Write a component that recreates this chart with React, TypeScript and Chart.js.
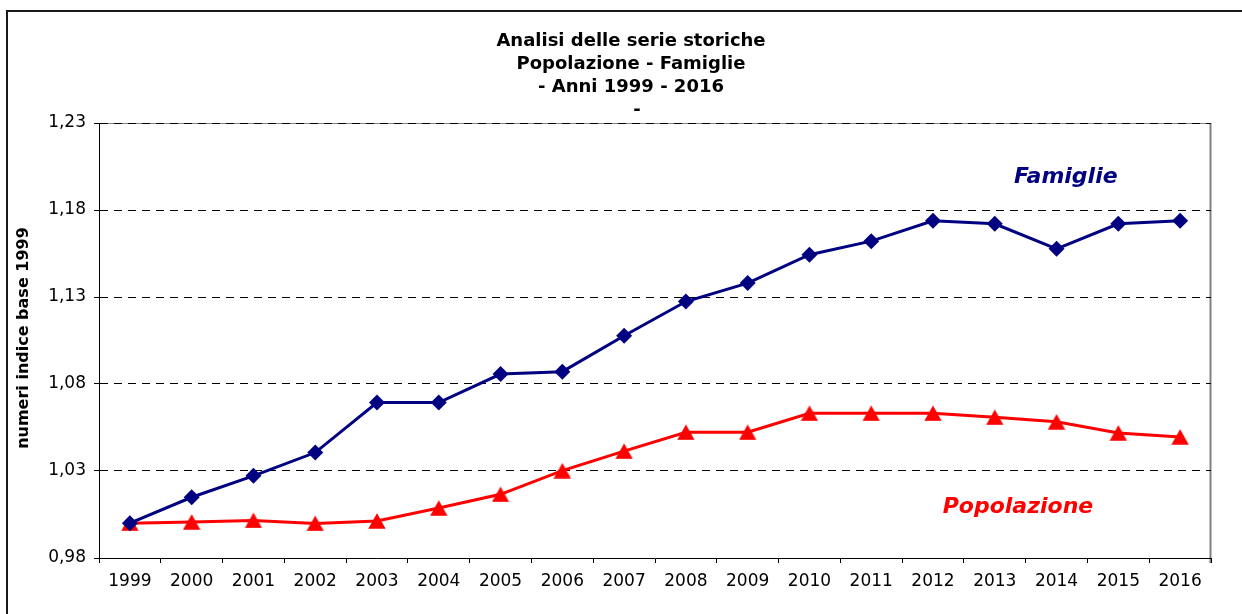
import React, { useEffect, useRef } from "react";
import { Chart, registerables } from "chart.js";

Chart.register(...registerables);

// ---- data ----
const YEARS = ["1999", "2000", "2001", "2002", "2003", "2004", "2005", "2006", "2007", "2008", "2009", "2010", "2011", "2012", "2013", "2014", "2015", "2016"];
const FAMIGLIE = [1.0, 1.0149, 1.0272, 1.0406, 1.0693, 1.0693, 1.0857, 1.0871, 1.1077, 1.1274, 1.138, 1.1543, 1.1621, 1.1738, 1.1721, 1.1577, 1.1721, 1.1738];
const POPOLAZIONE = [1.0, 1.0007, 1.0016, 0.9999, 1.0013, 1.0087, 1.0166, 1.0302, 1.0414, 1.0523, 1.0523, 1.0632, 1.0632, 1.0632, 1.0609, 1.0583, 1.0519, 1.0496];
const SERIES_NAMES = ["Famiglie", "Popolazione"];
const TITLE_LINES = ["Analisi delle serie storiche", "Popolazione - Famiglie", "- Anni 1999 - 2016", "-"];
const Y_TITLE = "numeri indice base 1999";
const Y_MIN = 0.98;
const Y_MAX = 1.23;
const Y_STEP = 0.05;
// series label anchors (category index, value at text baseline)
const FAMIGLIE_LABEL_AT = [15.15, 1.1958];
const POPOLAZIONE_LABEL_AT = [14.375, 1.0057];

const NAVY = "#000080";
const RED = "#FF0000";
const FONT = "'DejaVu Sans', Verdana, sans-serif";

function makeTriangle(color: string) {
  const c = document.createElement("canvas");
  c.width = 18;
  c.height = 16;
  const g = c.getContext("2d")!;
  g.fillStyle = color;
  g.beginPath();
  g.moveTo(0.3, 15.8);
  g.lineTo(9, 0.2);
  g.lineTo(17.7, 15.8);
  g.closePath();
  g.fill();
  return c;
}

const decor = {
  id: "decor",
  beforeDraw(chart: any) {
    const { ctx, chartArea: a } = chart;
    ctx.save();
    // outer chart border
    ctx.strokeStyle = "#1a1a1a";
    ctx.lineWidth = 2;
    ctx.strokeRect(7, 11, 1400, 900);
    // plot area border (gray) top + right
    ctx.strokeStyle = "#808080";
    ctx.lineWidth = 1;
    ctx.beginPath();
    ctx.moveTo(a.left, a.top + 0.5);
    ctx.lineTo(a.right, a.top + 0.5);
    ctx.stroke();
    ctx.lineWidth = 2;
    ctx.beginPath();
    ctx.moveTo(a.right - 0.5, a.top);
    ctx.lineTo(a.right - 0.5, a.bottom + 5);
    ctx.stroke();
    ctx.restore();
  },
  afterDraw(chart: any) {
    const { ctx } = chart;
    const xs = chart.scales.x;
    const ys = chart.scales.y;
    ctx.save();
    // title
    ctx.fillStyle = "#000";
    ctx.font = `bold 18px ${FONT}`;
    ctx.textAlign = "center";
    ctx.textBaseline = "alphabetic";
    const baselines = [45.6, 68.6, 91.6, 114.6];
    TITLE_LINES.forEach((t, i) => {
      ctx.fillText(t, t === "-" ? 637 : 631, baselines[i]);
    });
    // y axis title
    ctx.save();
    ctx.font = `bold 16px ${FONT}`;
    ctx.translate(28, 338);
    ctx.rotate(-Math.PI / 2);
    ctx.textAlign = "center";
    ctx.fillText(Y_TITLE, 0, 0);
    ctx.restore();
    // series labels
    ctx.font = `italic bold 22px ${FONT}`;
    ctx.textAlign = "center";
    ctx.fillStyle = NAVY;
    ctx.fillText(SERIES_NAMES[0], xs.getPixelForValue(FAMIGLIE_LABEL_AT[0]), ys.getPixelForValue(FAMIGLIE_LABEL_AT[1]));
    ctx.fillStyle = RED;
    ctx.fillText(SERIES_NAMES[1], xs.getPixelForValue(POPOLAZIONE_LABEL_AT[0]), ys.getPixelForValue(POPOLAZIONE_LABEL_AT[1]));
    ctx.restore();
  },
};

export default function App() {
  const ref = useRef<HTMLCanvasElement | null>(null);
  useEffect(() => {
    if (!ref.current) return;
    const tri = makeTriangle(RED);
    const chart = new Chart(ref.current, {
      type: "line",
      data: {
        labels: YEARS,
        datasets: [
          {
            label: SERIES_NAMES[0],
            data: FAMIGLIE,
            borderColor: NAVY,
            backgroundColor: NAVY,
            borderWidth: 3,
            tension: 0,
            pointStyle: "rectRot",
            pointRadius: 8,
            pointBorderWidth: 0,
            pointBackgroundColor: NAVY,
            pointBorderColor: NAVY,
          },
          {
            label: SERIES_NAMES[1],
            data: POPOLAZIONE,
            borderColor: RED,
            backgroundColor: RED,
            borderWidth: 3,
            tension: 0,
            pointStyle: tri as any,
            pointRadius: 9,
            pointBorderWidth: 0,
          },
        ],
      },
      options: {
        animation: false,
        responsive: false,
        devicePixelRatio: 1,
        events: [],
        layout: { padding: { top: 123, right: 31, left: 0, bottom: 0 } },
        plugins: {
          legend: { display: false },
          title: { display: false },
          tooltip: { enabled: false },
        },
        scales: {
          x: {
            type: "category",
            offset: true,
            grid: {
              offset: true,
              drawOnChartArea: false,
              drawTicks: true,
              tickLength: 5,
              tickColor: "#000",
              tickWidth: 1,
            },
            border: { display: true, color: "#000", width: 1 },
            ticks: {
              color: "#000",
              font: { family: FONT, size: 17 },
              padding: 8,
              maxRotation: 0,
              autoSkip: false,
            },
            afterFit(scale: any) {
              scale.height = 56;
            },
          },
          y: {
            min: Y_MIN,
            max: Y_MAX,
            grid: {
              color: "#000",
              lineWidth: 1,
              drawTicks: true,
              tickLength: 5,
              tickColor: "#000",
              tickWidth: 1,
              tickBorderDash: [],
            },
            border: { display: true, color: "#000", width: 1, dash: [8, 6] },
            ticks: {
              stepSize: Y_STEP,
              color: "#000",
              font: { family: FONT, size: 17 },
              padding: 8,
              callback: (v: any) => Number(v).toFixed(2).replace(".", ","),
            },
            afterFit(scale: any) {
              scale.width = 99;
            },
          },
        },
      },
      plugins: [decor],
    });
    return () => chart.destroy();
  }, []);
  return (
    <div style={{ position: "absolute", left: 0, top: 0, width: 1242, height: 614, background: "#fff" }}>
      <canvas ref={ref} width={1242} height={614} style={{ width: 1242, height: 614, display: "block" }} />
    </div>
  );
}
